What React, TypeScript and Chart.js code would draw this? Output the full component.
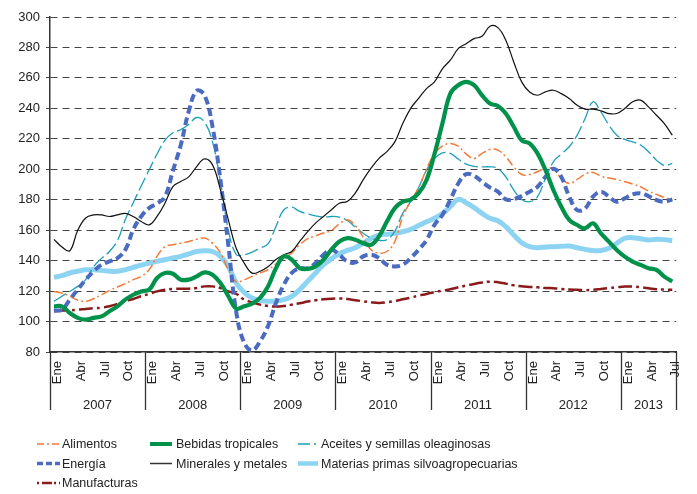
import React, { useEffect, useRef } from 'react';
import { Chart, registerables } from 'chart.js';

Chart.register(...registerables);

const YEARS = ['2007', '2008', '2009', '2010', '2011', '2012', '2013'];
const MONTH_TICKS = ['Ene', '', '', 'Abr', '', '', 'Jul', '', '', 'Oct', '', ''];
const MONTH_COUNT = 79; // Ene 2007 .. Jul 2013
const categories: string[] = [];
for (let i = 0; i < MONTH_COUNT; i++) {
  categories.push(YEARS[Math.floor(i / 12)] + '-' + String((i % 12) + 1).padStart(2, '0'));
}

const alimentos = [
  119.8, 118.7, 116.6, 114, 113.3, 115, 117.6, 120.3, 122.7, 124.9, 127.5, 129.7,
  134, 142.8, 149.3, 150.4, 151.5, 152.6, 154.1, 154.8, 151.5, 145, 134, 126,
  127.5, 129.7, 131.9, 134, 137.8, 141.2, 145, 150.4, 154.4, 156.3, 158.1, 159.8,
  164.2, 166.8, 163.1, 155.4, 147.1, 145, 146, 152.6, 169, 178.8, 188, 200,
  210.4, 215.2, 217, 215.2, 210, 207.1, 210.4, 213, 212.6, 208.2, 201.6, 196.6,
  196.6, 198.4, 200.8, 200, 194, 190.7, 193.3, 196.8, 197.9, 195.5, 194.2, 193.3,
  191.8, 190.3, 188.5, 185.7, 183.5, 181.5, 180.2,
];

const bebidas = [
  110, 110, 105.6, 102.4, 101.3, 102.4, 103.4, 106.7, 110, 114.4, 117.6, 119.8,
  120.9, 128.6, 131.9, 131.4, 127.5, 127.5, 129.7, 132.3, 130.8, 125.3, 116.6, 108.5,
  110, 111.7, 115.5, 123, 135, 142.8, 140.6, 135.1, 134.5, 136.2, 140.6, 147.2,
  152.6, 154.8, 153.7, 151.5, 150.4, 155.9, 165.7, 174.5, 178.8, 180, 184.3, 193,
  210, 230, 249.7, 255.2, 257.4, 255.2, 248.6, 243.2, 241.6, 236.6, 227.9, 219,
  217, 210.4, 199.5, 186.4, 175.4, 166.7, 163.4, 161.2, 164.5, 157.9, 152.5, 147,
  142.6, 139.4, 137.2, 135, 133.9, 129.5, 126.3,
];

const aceites = [
  113.3, 116.6, 119.8, 123.1, 127.5, 136, 141.5, 146, 153, 167, 178, 189,
  199.5, 210, 219, 224, 226, 229.5, 234, 231, 218, 192, 160, 144,
  143.9, 145.6, 148.2, 151, 162.4, 173.4, 175.1, 172.3, 170.7, 169.4, 168.6, 169,
  168.6, 166.4, 162, 158, 154.8, 153.3, 153.7, 159.2, 171.2, 178.8, 188, 199.5,
  207.1, 210.8, 210.4, 206.7, 203.4, 201.9, 201.6, 201.6, 200.6, 195, 186.4, 180.2,
  178.7, 182, 194, 204.9, 210, 214.8, 222.4, 233.3, 244.3, 237.7, 229, 222.4,
  219.6, 218, 215.9, 211.5, 206, 202.5, 203.8,
];

const energia = [
  107.2, 107.8, 114.4, 121, 127.5, 133, 137.3, 139.5, 141.7, 147.1, 160.3, 169,
  174.5, 177.5, 182, 199, 216, 238, 251.5, 248.5, 228, 193, 150, 106,
  86, 81, 87, 97, 112.2, 124.2, 131.9, 135, 135, 138.4, 143.9, 147.1,
  143.9, 139.5, 138.8, 142.8, 143.9, 141.7, 137.3, 136.2, 137.3, 141.7, 147.1, 153.5,
  163.5, 170, 180, 190.7, 196.8, 195.7, 191.8, 188, 185.3, 180.2, 180.4, 182.4,
  185.3, 188.5, 195, 200.3, 195, 182, 173.2, 174.3, 182, 185.3, 182, 178.7,
  180.9, 183.5, 184.2, 182.4, 179.8, 178.7, 180.2,
];

const minerales = [
  154, 149, 146.5, 160, 168, 170, 170, 169, 170, 171, 169, 165.7,
  163.5, 169, 177.7, 188.6, 192, 195, 201.8, 206.8, 202.9, 186.5, 166.8, 148,
  138.4, 131.8, 133, 136, 140.7, 143.9, 146, 152.6, 159, 164.6, 169, 173.4,
  177.7, 178.8, 184.3, 193, 200.7, 207.2, 211.6, 218, 230, 240, 246.6, 253,
  257.4, 266, 271.6, 279.2, 282.5, 285.8, 287.3, 293.9, 293, 284.7, 270.5, 257.4,
  250.8, 248.6, 250.8, 251.9, 249.7, 246.5, 242, 239.5, 239.5, 238.4, 236.6, 236.6,
  239.9, 244.3, 245.4, 241, 235.5, 230, 222.4,
];

const materias = [
  129, 130.1, 131.9, 133, 134, 134, 133.6, 133, 133, 134, 135.6, 137.1,
  138.4, 139.5, 140.6, 141.7, 142.8, 144.5, 146, 146.5, 146, 142.8, 136.2, 125.3,
  119.1, 115.5, 114, 113.3, 113.5, 114.4, 116.6, 121, 126.4, 131.9, 137.3, 141.2,
  144.5, 146.7, 148.4, 151.5, 154.6, 156.8, 157.4, 157.9, 159, 160.5, 163.1, 165.5,
  167.8, 171, 175.4, 180.2, 178, 174.8, 171, 167.8, 166.2, 162.3, 156.8, 151.8,
  149.2, 148.5, 149, 149.2, 149.4, 149.6, 148.5, 147.4, 146.6, 146.6, 148.1, 151.4,
  154.7, 155.1, 154.4, 153.6, 154, 153.8, 153.1,
];

const manufacturas = [
  106.7, 107.2, 107.4, 107.8, 108.3, 108.7, 109.1, 110, 111.5, 113.3, 114.8, 116.6,
  118.1, 119.8, 120.9, 121.4, 121.6, 121.6, 122, 123.1, 123.1, 122, 119.8, 118.1,
  114.4, 112.6, 111.1, 110.2, 109.8, 110.2, 111.1, 112, 113.1, 114, 114.6, 115,
  115.2, 114.8, 114, 113.3, 112.6, 112.2, 112.6, 113.5, 114.6, 115.7, 117, 118.1,
  119.4, 120.3, 121.2, 122.5, 123.6, 124.7, 125.6, 126.2, 125.8, 124.9, 123.8, 123.2,
  122.7, 122.5, 122, 121.9, 121.4, 121, 120.8, 120.6, 120.8, 121.4, 122, 122.5,
  123, 123, 122.5, 121.9, 121.2, 121, 120.8,
];

const ORANGE = '#F47A3A';
const BLUE = '#4A6BC0';
const RED = '#8B1A1A';
const GREEN = '#00924A';
const BLACK = '#111111';
const TEAL = '#1CA0B8';
const LIGHTBLUE = '#8DD4F2';

const FONT = '"Liberation Sans", Arial, sans-serif';

type LegendItem = { label: string; col: number; row: number; color: string; width: number; dash: string };
const legendItems: LegendItem[] = [
  { label: 'Alimentos', col: 0, row: 0, color: ORANGE, width: 1.6, dash: '7 3 2 3' },
  { label: 'Energía', col: 0, row: 1, color: BLUE, width: 3.5, dash: '6 3' },
  { label: 'Manufacturas', col: 0, row: 2, color: RED, width: 2.5, dash: '2 3 10 2' },
  { label: 'Bebidas tropicales', col: 1, row: 0, color: GREEN, width: 4, dash: '' },
  { label: 'Minerales y metales', col: 1, row: 1, color: '#333', width: 1.5, dash: '' },
  { label: 'Aceites y semillas oleaginosas', col: 2, row: 0, color: TEAL, width: 1.6, dash: '12 4 2 4' },
  { label: 'Materias primas silvoagropecuarias', col: 2, row: 1, color: LIGHTBLUE, width: 4.5, dash: '' },
];
const legendCols = [
  { sx: 37, ex: 60, tx: 62 },
  { sx: 150, ex: 172, tx: 176 },
  { sx: 298, ex: 318, tx: 321 },
];
const legendRows = [444, 463.5, 483];

const yearPlugin = {
  id: 'yearAxis',
  afterDraw(chart: any) {
    const { ctx, chartArea, scales } = chart;
    const x = scales.x;
    const step = x.getPixelForValue(1) - x.getPixelForValue(0);
    const edge = (i: number) => x.getPixelForValue(i) - step / 2;
    const bottom = 410;
    ctx.save();
    ctx.strokeStyle = '#333';
    ctx.lineWidth = 1.3;
    for (let k = 0; k <= YEARS.length; k++) {
      const i = Math.min(k * 12, MONTH_COUNT);
      const px = Math.round(edge(i)) + 0.5;
      ctx.beginPath();
      ctx.moveTo(px, chartArea.bottom);
      ctx.lineTo(px, bottom);
      ctx.stroke();
    }
    ctx.fillStyle = '#222';
    ctx.font = '13px ' + FONT;
    ctx.textAlign = 'center';
    ctx.textBaseline = 'middle';
    YEARS.forEach((yr, k) => {
      const a = edge(k * 12);
      const b = edge(Math.min((k + 1) * 12, MONTH_COUNT));
      ctx.fillText(yr, (a + b) / 2, 405);
    });
    ctx.restore();
  },
};

export default function App() {
  const ref = useRef<HTMLCanvasElement | null>(null);

  useEffect(() => {
    if (!ref.current) return;
    Chart.defaults.font.family = FONT;
    const mk = (label: string, data: number[], color: string, width: number, dash: number[]) => ({
      label,
      data,
      borderColor: color,
      backgroundColor: color,
      borderWidth: width,
      borderDash: dash,
      pointRadius: 0,
      fill: false,
      tension: 0.4,
      borderCapStyle: 'butt' as const,
    });
    const chart = new Chart(ref.current, {
      type: 'line',
      data: {
        labels: categories,
        datasets: [
          mk('Bebidas tropicales', bebidas, GREEN, 4.2, []),
          mk('Minerales y metales', minerales, BLACK, 1.2, []),
          mk('Energía', energia, BLUE, 4, [8, 4]),
          mk('Alimentos', alimentos, ORANGE, 1.5, [9, 3, 2, 3]),
          mk('Aceites y semillas oleaginosas', aceites, TEAL, 1.3, [14, 4]),
          mk('Manufacturas', manufacturas, RED, 2.5, [14, 4, 3, 4]),
          mk('Materias primas silvoagropecuarias', materias, LIGHTBLUE, 5, []),
        ],
      },
      options: {
        responsive: false,
        animation: false,
        layout: { padding: { left: 0, right: 19, top: 17, bottom: 0 } },
        plugins: { legend: { display: false }, tooltip: { enabled: false } },
        scales: {
          x: {
            type: 'category',
            offset: true,
            grid: { display: false, drawTicks: false },
            border: { display: true, color: '#333', width: 1.5 },
            ticks: {
              autoSkip: false,
              maxRotation: 90,
              minRotation: 90,
              padding: 9,
              labelOffset: 3.5,
              color: '#222',
              font: { size: 13, family: FONT },
              callback: (_v: any, idx: number) => MONTH_TICKS[idx % 12],
            },
            afterFit: (s: any) => {
              s.height = 68;
            },
          },
          y: {
            min: 80,
            max: 300,
            ticks: { stepSize: 20, padding: 6, color: '#222', font: { size: 13, family: FONT } },
            grid: { color: '#444', lineWidth: 1, tickLength: 4, drawTicks: true },
            border: { display: true, color: '#333', width: 1.5, dash: [7, 5] },
            afterFit: (s: any) => {
              s.width = 50;
            },
          },
        },
      },
      plugins: [yearPlugin],
    });
    return () => chart.destroy();
  }, []);

  return (
    <div style={{ position: 'absolute', left: 0, top: 0, width: 697, height: 494, background: '#fff', fontFamily: FONT }}>
      <canvas ref={ref} width={697} height={420} style={{ position: 'absolute', left: 0, top: 0, width: 697, height: 420 }} />
      <svg width={697} height={494} style={{ position: 'absolute', left: 0, top: 0, pointerEvents: 'none' }}>
        {legendItems.map((it) => {
          const c = legendCols[it.col];
          const y = legendRows[it.row];
          return (
            <line
              key={it.label}
              x1={c.sx}
              x2={c.ex}
              y1={y}
              y2={y}
              stroke={it.color}
              strokeWidth={it.width}
              strokeDasharray={it.dash || undefined}
            />
          );
        })}
      </svg>
      {legendItems.map((it) => {
        const c = legendCols[it.col];
        const y = legendRows[it.row];
        return (
          <div
            key={'t' + it.label}
            style={{
              position: 'absolute',
              left: c.tx,
              top: y - 8,
              height: 16,
              lineHeight: '16px',
              fontSize: 12.5,
              color: '#222',
              whiteSpace: 'nowrap',
            }}
          >
            {it.label}
          </div>
        );
      })}
    </div>
  );
}
